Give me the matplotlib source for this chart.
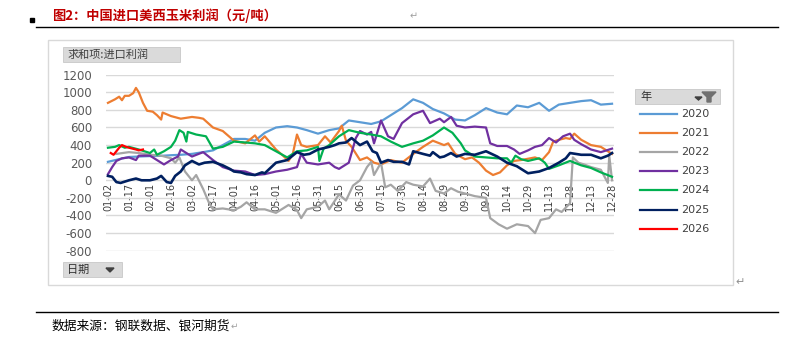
import numpy as np
import matplotlib
matplotlib.use('Agg')
import matplotlib.pyplot as plt
from matplotlib.patches import Rectangle, Polygon
from matplotlib.lines import Line2D

plt.rcParams['font.family'] = ['Noto Sans CJK SC', 'DejaVu Sans']

# x axis labels (category axis, one label every 15 days)
tick_labels = ['01-02', '01-17', '02-01', '02-16', '03-02', '03-17', '04-01', '04-16',
               '05-01', '05-16', '05-31', '06-15', '06-30', '07-15', '07-30', '08-14',
               '08-29', '09-13', '09-28', '10-14', '10-29', '11-13', '11-28', '12-13', '12-28']

# series: day offset from 01-02, profit (yuan/ton)
d2020 = [0, 8, 15, 22, 30, 38, 45, 52, 60, 68, 75, 82, 90, 98, 105, 112, 120, 128, 135, 142,
         150, 158, 165, 172, 180, 188, 195, 202, 210, 218, 225, 232, 240, 248, 255, 262, 270,
         278, 285, 292, 300, 308, 315, 322, 330, 338, 345, 352, 360]
v2020 = [210, 240, 265, 270, 275, 278, 285, 290, 300, 320, 340, 400, 470, 470, 450, 540, 600,
         615, 600, 570, 530, 570, 590, 680, 660, 640, 670, 740, 820, 920, 880, 810, 760, 690,
         680, 740, 820, 770, 750, 850, 830, 880, 790, 860, 880, 900, 910, 860, 870]

d2021 = [0, 5, 8, 10, 12, 15, 18, 20, 22, 25, 28, 32, 35, 38, 39, 45, 52, 60, 65, 68, 75, 82,
         90, 98, 105, 108, 112, 120, 125, 129, 132, 135, 138, 142, 150, 155, 159, 165, 167, 170,
         174, 180, 185, 190, 195, 202, 210, 218, 225, 232, 240, 243, 248, 255, 260, 265, 270,
         275, 280, 285, 290, 295, 305, 310, 315, 318, 322, 327, 330, 333, 338, 345, 352, 360]
v2021 = [880, 920, 950, 910, 960, 960, 990, 1050, 1000, 880, 790, 780, 740, 690, 770, 730, 700,
         720, 710, 700, 600, 560, 450, 420, 510, 440, 500, 350, 280, 220, 300, 520, 400, 380,
         400, 500, 430, 560, 620, 450, 380, 230, 260, 200, 180, 230, 200, 300, 380, 450, 400,
         420, 300, 240, 260, 200, 110, 60, 90, 170, 220, 230, 260, 230, 320, 440, 460, 480, 470,
         530, 460, 400, 380, 300]

d2022 = [6, 15, 22, 30, 38, 45, 48, 51, 55, 60, 63, 68, 72, 75, 82, 90, 95, 99, 105, 112, 120,
         125, 129, 135, 138, 142, 150, 155, 158, 165, 170, 175, 180, 185, 188, 190, 195, 198,
         202, 207, 213, 218, 225, 230, 234, 240, 245, 250, 255, 262, 270, 273, 279, 285, 292,
         300, 305, 309, 315, 320, 324, 330, 332, 336, 340, 345, 352, 357, 358, 360]
v2022 = [300, 320, 310, 290, 280, 250, 200, 260, 100, 0, 60, -100, -250, -330, -320, -340, -300,
         -250, -330, -330, -370, -320, -280, -340, -430, -330, -300, -230, -330, -160, -230, -60,
         0, 150, 210, 60, 200, -80, -50, -120, -20, -50, -70, 20, -120, -150, -90, -130, -150,
         -180, -200, -430, -500, -550, -500, -520, -600, -450, -430, -330, -360, -260, 260, 200,
         180, 150, 120, -30, 280, 0]

d2023 = [0, 3, 6, 10, 15, 20, 22, 30, 35, 40, 45, 50, 52, 57, 60, 68, 75, 82, 90, 98, 105, 112,
         120, 128, 135, 138, 142, 150, 158, 162, 165, 172, 177, 180, 185, 188, 190, 195, 200,
         204, 210, 218, 225, 230, 237, 240, 245, 249, 255, 262, 270, 273, 278, 285, 290, 294,
         300, 305, 310, 315, 320, 325, 330, 333, 338, 345, 352, 360]
v2023 = [70, 150, 220, 250, 260, 230, 280, 280, 230, 180, 230, 270, 350, 300, 270, 320, 230, 150,
         110, 100, 60, 70, 100, 120, 150, 300, 200, 180, 200, 150, 130, 200, 480, 560, 520, 550,
         420, 680, 500, 470, 650, 750, 790, 650, 700, 660, 720, 620, 600, 610, 600, 420, 390,
         390, 350, 300, 340, 380, 400, 480, 430, 500, 530, 460, 410, 350, 320, 360]

d2024 = [0, 5, 8, 12, 15, 22, 30, 33, 35, 40, 45, 48, 51, 54, 56, 57, 63, 70, 75, 82, 90, 98,
         105, 112, 120, 128, 135, 142, 150, 151, 154, 158, 165, 172, 180, 188, 195, 202, 210,
         218, 225, 232, 240, 246, 252, 255, 262, 270, 278, 285, 288, 291, 295, 300, 308, 312,
         315, 322, 330, 338, 345, 352, 360]
v2024 = [370, 380, 400, 370, 380, 350, 310, 350, 290, 330, 380, 450, 570, 540, 440, 550, 520,
         500, 360, 380, 440, 430, 420, 400, 330, 260, 330, 340, 380, 220, 360, 400, 500, 570,
         540, 520, 500, 440, 380, 420, 450, 510, 600, 540, 420, 340, 270, 260, 250, 250, 200,
         280, 240, 220, 250, 200, 130, 170, 220, 170, 140, 90, 40]

d2025 = [0, 3, 6, 9, 15, 20, 24, 30, 35, 38, 42, 45, 48, 52, 55, 60, 65, 69, 75, 82, 87, 90, 95,
         99, 105, 110, 112, 120, 128, 135, 140, 144, 150, 158, 162, 165, 170, 174, 180, 185, 189,
         192, 195, 200, 204, 210, 215, 218, 225, 230, 232, 237, 240, 245, 249, 255, 262, 270,
         278, 285, 292, 300, 308, 315, 322, 327, 330, 338, 345, 352, 357, 360]
v2025 = [50, 40, -20, -30, 0, 20, 0, 0, 20, 50, -20, -30, 50, 100, 170, 220, 180, 200, 210, 170,
         130, 100, 90, 70, 60, 90, 80, 200, 230, 320, 290, 300, 350, 380, 400, 420, 430, 480,
         400, 440, 330, 310, 200, 230, 210, 210, 180, 330, 300, 280, 320, 260, 270, 310, 270,
         300, 290, 330, 270, 200, 160, 80, 100, 140, 200, 250, 310, 290, 290, 250, 280, 310]

d2026 = [2, 4, 6, 8, 10, 13, 15, 20, 22, 25]
v2026 = [310, 290, 330, 370, 400, 380, 370, 350, 340, 350]

years = ['2020', '2021', '2022', '2023', '2024', '2025', '2026']
colors = ['#5B9BD5', '#ED7D31', '#A5A5A5', '#7030A0', '#00B050', '#002060', '#FF0000']
series = [(d2020, v2020), (d2021, v2021), (d2022, v2022), (d2023, v2023),
          (d2024, v2024), (d2025, v2025), (d2026, v2026)]

W, H = 795, 338


def fx(x):
    return x / W


def fy(y):
    return 1 - y / H


fig = plt.figure(figsize=(W / 100, H / 100), dpi=100)

# document decorations
fig.patches.append(Rectangle((fx(30), fy(22)), 4 / W, 4 / H, transform=fig.transFigure,
                             color='black'))
fig.text(fx(52), fy(16), '图2：中国进口美西玉米利润（元/吨）', color='#C00000', fontsize=9.5,
         fontweight='bold', va='center', ha='left')
fig.text(fx(410), fy(16), '↵', color='#A0A0A0', fontsize=7, va='center', family='DejaVu Sans')
fig.add_artist(Line2D([fx(36), fx(778)], [fy(27), fy(27)], color='black', lw=1))
fig.add_artist(Line2D([fx(36), fx(778)], [fy(312), fy(312)], color='black', lw=1))
fig.text(fx(52), fy(326), '数据来源：钢联数据、银河期货', fontsize=9.2, color='black', va='center')
fig.text(fx(231), fy(326), '↵', color='#A0A0A0', fontsize=6.5, va='center', family='DejaVu Sans')

# chart frame
fig.patches.append(Rectangle((fx(48), fy(285)), (733 - 48) / W, (285 - 40) / H,
                             transform=fig.transFigure, fill=False, ec='#D9D9D9', lw=1))
fig.text(fx(735), fy(282), '↵', color='#909090', fontsize=8, va='center', family='DejaVu Sans')

# pivot field buttons
fig.patches.append(Rectangle((fx(63), fy(62)), 117 / W, 15 / H, transform=fig.transFigure,
                             fc='#DADADA', ec='#C8C8C8', lw=0.6))
fig.text(fx(67), fy(54.5), '求和项:进口利润', fontsize=8, color='#404040', va='center')
fig.patches.append(Rectangle((fx(63), fy(277)), 59 / W, 15 / H, transform=fig.transFigure,
                             fc='#DADADA', ec='#C8C8C8', lw=0.6))
fig.text(fx(67), fy(269.5), '日期', fontsize=8, color='#303030', va='center')
fig.patches.append(Polygon([(fx(106), fy(268)), (fx(114), fy(268)), (fx(110), fy(272))],
                           closed=True, transform=fig.transFigure, color='#404040'))

# main plot
ax = fig.add_axes([fx(106), fy(250.7), (614 - 106) / W, (250.7 - 74.7) / H])
for (d, v), c, yr in zip(series, colors, years):
    lw = 1.9 if yr == '2025' else 1.6
    ax.plot(d, v, color=c, lw=lw, solid_joinstyle='round')

ax.set_ylim(-800, 1200)
ax.set_xlim(-1.4, 361.4)
ax.set_yticks(np.arange(-800, 1201, 200))
ax.set_yticklabels([str(t) for t in range(-800, 1201, 200)], fontsize=8.5, color='#595959',
                   family='DejaVu Sans')
ax.grid(axis='y', color='#D9D9D9', lw=1)
ax.set_axisbelow(True)
for s in ax.spines.values():
    s.set_visible(False)
ax.spines['bottom'].set_position(('data', 0))
ax.set_xticks(np.arange(0, 361, 15))
ax.set_xticklabels(tick_labels, rotation=90, fontsize=7, color='#404040', family='DejaVu Sans')
ax.tick_params(axis='y', length=0, pad=10)
ax.tick_params(axis='x', length=0, pad=2)
ax.patch.set_alpha(0)

# legend (pivot chart style)
fig.patches.append(Rectangle((fx(635), fy(104)), 85 / W, 15 / H, transform=fig.transFigure,
                             fc='#DADADA', ec='#C8C8C8', lw=0.6))
fig.text(fx(640), fy(96.5), '年', fontsize=8, color='#303030', va='center')
fig.patches.append(Polygon([(fx(695), fy(97)), (fx(702), fy(97)), (fx(698.5), fy(100))],
                           closed=True, transform=fig.transFigure, color='#404040'))
fig.patches.append(Polygon([(fx(702), fy(92)), (fx(716), fy(92)), (fx(711), fy(97)),
                            (fx(711), fy(102)), (fx(707), fy(102)), (fx(707), fy(97))],
                           closed=True, transform=fig.transFigure, color='#707070'))
leg_y = [114, 133, 152, 171, 190, 210, 229]
for yr, c, yy in zip(years, colors, leg_y):
    fig.add_artist(Line2D([fx(640), fx(677)], [fy(yy), fy(yy)], color=c, lw=1.6))
    fig.text(fx(681), fy(yy), yr, fontsize=8, color='#404040', va='center',
             family='DejaVu Sans')

fig.savefig('out.png', dpi=100)
